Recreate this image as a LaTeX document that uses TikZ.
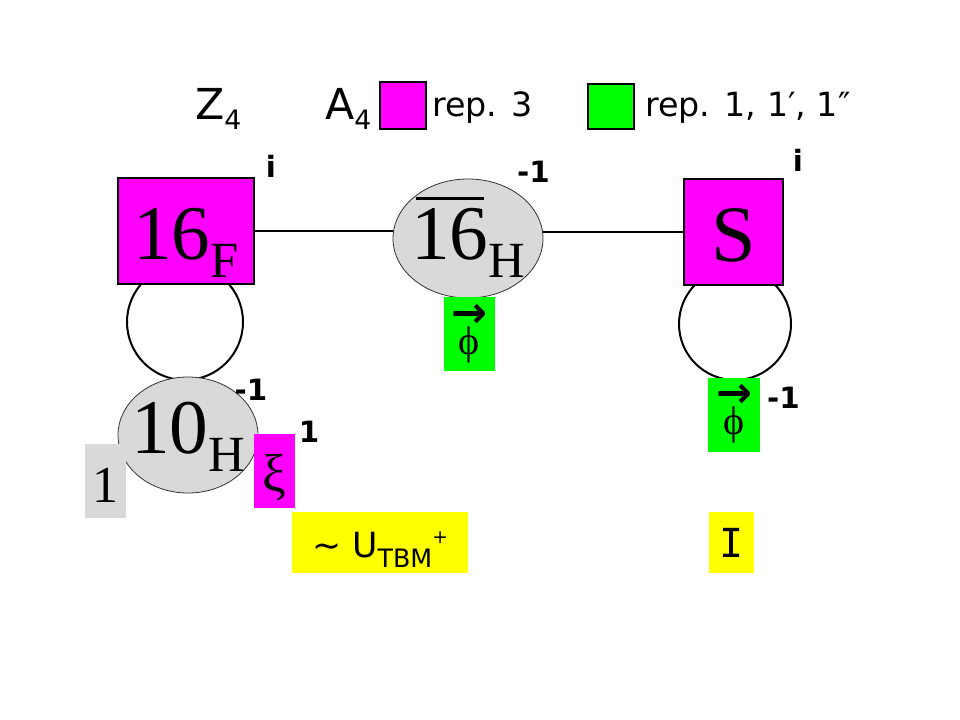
\documentclass[tikz,border=0pt]{standalone}
\usepackage{fontspec}
\setmainfont{Liberation Serif}
\newfontfamily\labelfont{DejaVu Sans}
\newfontfamily\monofont{DejaVu Sans Mono}
\usepackage{tikz}
\usetikzlibrary{shapes.geometric,backgrounds}

\definecolor{repthree}{RGB}{255,0,255}
\definecolor{repone}{RGB}{0,255,0}
\definecolor{higgsgray}{RGB}{217,217,217}
\definecolor{vevyellow}{RGB}{255,255,0}

\newcommand{\bigfield}[2]{{\fontsize{58}{60}\selectfont #1}\raisebox{-13.5pt}{\fontsize{38}{40}\selectfont #2}}
\newcommand{\barsix}{\rlap{\hspace{3.5pt}\rule[45pt]{51pt}{2.2pt}}16}
\newcommand{\vecphi}{\ooalign{\hfil{\fontsize{30}{30}\selectfont ϕ}\hfil\cr
  \hfil\raisebox{20pt}{\resizebox{27pt}{!}{\labelfont\bfseries →}}\hfil\cr}}

\begin{document}
\begin{tikzpicture}[
  x=0.75pt,y=-0.75pt,
  field/.style={rectangle,draw=black,line width=0.8pt,fill=repthree,
                inner sep=0pt,text depth=0pt},
  higgs/.style={ellipse,draw=black!80,line width=0.6pt,fill=higgsgray,
                inner sep=0pt,text depth=0pt},
  flavon/.style={rectangle,inner sep=0pt,text depth=0pt,minimum height=55.5pt},
  charge/.style={font=\labelfont\bfseries\fontsize{22}{22}\selectfont,
                 anchor=base,inner sep=0pt},
  legend/.style={font=\labelfont\fontsize{25}{26}\selectfont,
                 anchor=base west,inner sep=0pt},
  keybox/.style={rectangle,draw=black,line width=0.8pt,inner sep=0pt,
                 minimum width=34.5pt},
  bond/.style={line width=1.5pt},
  ring/.style={line width=1.5pt}
]
  \useasboundingbox (0,0) rectangle (960,720);

  % legend
  \node[legend,font=\labelfont\fontsize{32}{34}\selectfont](Z4) at (195,120)
    {Z\raisebox{-7.5pt}{\fontsize{20}{20}\selectfont 4}};
  \node[legend,font=\labelfont\fontsize{32}{34}\selectfont](A4) at (325,120)
    {A\raisebox{-7.5pt}{\fontsize{20}{20}\selectfont 4}};
  \node[keybox,fill=repthree,minimum height=35.25pt](keyA) at (403,105.5){};
  \node[legend](keyAtext) at (432,117){rep. 3};
  \node[keybox,fill=repone,minimum height=33.75pt](keyB) at (611,106.5){};
  \node[legend](keyBtext) at (645,117){rep. 1, 1′, 1″};

  % fields
  \node[field,minimum width=102pt,minimum height=79.5pt,text height=43.5pt]
    (F16) at (186,231){\bigfield{16}{F}};
  \node[higgs,minimum width=112.5pt,minimum height=89.25pt,text height=32.25pt]
    (H16) at (468,238.5){\makebox[0pt]{\bigfield{\barsix}{H}}};
  \node[field,minimum width=74.25pt,minimum height=79.5pt,text height=45pt]
    (S) at (733.5,232){{\fontsize{60}{62}\selectfont S}};
  \node[higgs,minimum width=105pt,minimum height=87pt,text height=27pt]
    (H10) at (188,435){\makebox[0pt]{\bigfield{10}{H}}};

  % flavons
  \node[flavon,fill=repone,minimum width=38.25pt,text height=30.75pt]
    (phiH) at (469.5,334){\vecphi};
  \node[flavon,fill=repone,minimum width=39pt,text height=29.25pt]
    (phiS) at (734,415){\vecphi};
  \node[flavon,fill=repthree,minimum width=30.75pt,text height=30pt]
    (xi) at (274.5,471){{\fontsize{40}{40}\selectfont ξ}};
  \node[flavon,fill=higgsgray,minimum width=30.75pt,text height=31.5pt]
    (one) at (105.5,481){{\fontsize{39}{40}\selectfont 1}};

  % vevs
  \node[flavon,fill=vevyellow,minimum width=132pt,minimum height=45.75pt,
        text height=21.75pt,font=\labelfont](Umix) at (380,542.5)
    {{\fontsize{26}{28}\selectfont \textasciitilde\ U}\raisebox{-7.5pt}{\fontsize{19}{20}\selectfont TBM}\raisebox{10pt}{\fontsize{14}{14}\selectfont +}};
  \node[flavon,fill=vevyellow,minimum width=33.75pt,minimum height=45.75pt,
        text height=21.75pt](Iden) at (731.5,542.5)
    {\monofont\fontsize{30}{30}\selectfont I};

  % charges
  \node[charge](qF) at (271,178){i};
  \node[charge](qHbar) at (533.5,183){-1};
  \node[charge](qS) at (798,172){i};
  \node[charge](qH) at (251,400){-1};
  \node[charge](qxi) at (309,442){1};
  \node[charge](qphi) at (783.5,408){-1};

  \coordinate (loopF) at (185,322);
  \coordinate (loopS) at (735,324);

  \begin{scope}[on background layer]
    \draw[bond](F16.east)--(F16.east -| H16.center);
    \draw[bond](S.west)--(S.west -| H16.center);
    \draw[ring](loopF) circle[radius=43.5pt];
    \draw[ring](loopS) circle[radius=42pt];
  \end{scope}
\end{tikzpicture}
\end{document}
